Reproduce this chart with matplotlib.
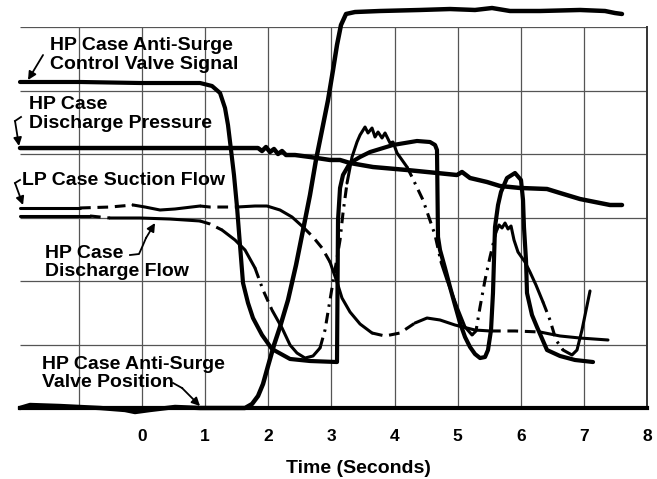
import numpy as np
import matplotlib.pyplot as plt

# Traces: time in seconds, level in grid divisions (0 = bottom line)

# HP case anti-surge control valve signal
cvs_t = np.array([-1.933, -0.982, -0.032, 0.919, 1.109, 1.236, 1.315, 1.362, 1.410, 1.457,
                  1.505, 1.552, 1.600, 1.679, 1.758, 1.901, 2.059, 2.345, 2.661, 3.089,
                  3.105, 3.137, 3.184, 3.295, 3.454, 3.612, 3.976, 4.356, 4.562, 4.642,
                  4.673, 4.689, 4.721, 4.800, 4.879, 4.958, 5.038, 5.117, 5.196, 5.275,
                  5.355, 5.434, 5.481, 5.529, 5.560, 5.592, 5.640, 5.687, 5.782, 5.909,
                  6.004, 6.036, 6.051, 6.083, 6.099, 6.178, 6.257, 6.416, 6.622, 6.859,
                  7.145])
cvs_v = np.array([5.134, 5.134, 5.118, 5.118, 5.071, 4.961, 4.724, 4.457, 4.063, 3.669,
                  3.165, 2.567, 1.969, 1.654, 1.417, 1.150, 0.929, 0.772, 0.740, 0.724,
                  2.961, 3.465, 3.669, 3.858, 3.953, 4.031, 4.142, 4.205, 4.189, 4.142,
                  4.063, 2.693, 2.488, 2.205, 1.906, 1.622, 1.339, 1.118, 0.961, 0.850,
                  0.787, 0.803, 0.913, 1.228, 1.811, 2.850, 3.197, 3.402, 3.622, 3.701,
                  3.591, 3.276, 2.850, 2.331, 1.811, 1.465, 1.276, 0.913, 0.819, 0.756,
                  0.724])

# HP case discharge pressure
dp_t = np.array([-1.933, -0.982, -0.032, 0.919, 1.838, 1.901, 1.964, 2.028, 2.091, 2.154,
                 2.218, 2.281, 2.424, 2.661, 2.978, 3.137, 3.295, 3.659, 4.198, 4.673,
                 4.990, 5.069, 5.196, 5.465, 5.671, 5.988, 6.416, 6.622, 6.939, 7.256,
                 7.414, 7.604])
dp_v = np.array([4.094, 4.094, 4.094, 4.094, 4.094, 4.047, 4.110, 4.031, 4.079, 4.000,
                 4.047, 3.984, 3.984, 3.953, 3.906, 3.906, 3.858, 3.795, 3.748, 3.701,
                 3.669, 3.717, 3.622, 3.559, 3.496, 3.465, 3.449, 3.386, 3.291, 3.228,
                 3.197, 3.197])

# LP case suction flow
lps_t = np.array([-1.933, -0.982, -0.507, -0.143, 0.048, 0.285, 0.523, 0.919, 1.077, 1.505,
                  1.790, 1.980, 2.186, 2.376, 2.551, 2.709, 2.852, 2.978, 3.089, 3.168,
                  3.295, 3.454, 3.644, 3.850, 4.087, 4.325, 4.515, 4.721, 4.958, 5.275,
                  5.513, 5.909, 6.305, 6.622, 6.939, 7.382])
lps_v = np.array([3.150, 3.150, 3.165, 3.197, 3.165, 3.118, 3.134, 3.181, 3.165, 3.165,
                  3.181, 3.181, 3.118, 3.008, 2.850, 2.693, 2.520, 2.299, 1.984, 1.732,
                  1.512, 1.323, 1.181, 1.134, 1.181, 1.339, 1.417, 1.386, 1.307, 1.228,
                  1.213, 1.213, 1.197, 1.134, 1.102, 1.071])

# HP case discharge flow
hdf_t = np.array([-1.933, -0.824, -0.507, -0.032, 0.444, 0.919, 1.077, 1.267, 1.473, 1.632,
                  1.790, 1.917, 2.059, 2.218, 2.345, 2.455, 2.582, 2.709, 2.820, 2.899,
                  2.978, 3.057, 3.137, 3.184, 3.248, 3.327, 3.406, 3.454, 3.533, 3.580,
                  3.644, 3.691, 3.739, 3.802, 3.850, 3.929, 3.976, 4.040, 4.119, 4.198,
                  4.277, 4.451, 4.642, 4.737, 4.832, 4.990, 5.117, 5.228, 5.291, 5.355,
                  5.434, 5.513, 5.608, 5.656, 5.703, 5.751, 5.798, 5.846, 5.893, 5.956,
                  6.067, 6.146, 6.241, 6.352, 6.463, 6.558, 6.669, 6.812, 6.891, 6.970,
                  7.097])
hdf_v = np.array([3.024, 3.024, 2.992, 2.992, 2.976, 2.945, 2.898, 2.803, 2.646, 2.488,
                  2.205, 1.858, 1.543, 1.260, 0.992, 0.866, 0.787, 0.819, 0.945, 1.228,
                  1.701, 2.173, 2.646, 3.071, 3.543, 3.953, 4.189, 4.299, 4.425, 4.331,
                  4.409, 4.268, 4.346, 4.252, 4.331, 4.173, 4.189, 4.016, 3.906, 3.795,
                  3.638, 3.276, 2.724, 2.299, 2.016, 1.591, 1.276, 1.150, 1.213, 1.591,
                  2.016, 2.378, 2.772, 2.882, 2.835, 2.913, 2.819, 2.866, 2.646, 2.457,
                  2.299, 2.142, 1.937, 1.669, 1.386, 1.071, 0.913, 0.835, 0.913, 1.228,
                  1.843])

# HP case anti-surge valve position
vp_t = np.array([-1.933, -1.774, -1.299, -0.665, -0.269, -0.111, 0.127, 0.523, 0.919, 1.632,
                 1.743, 1.838, 1.917, 1.996, 2.091, 2.186, 2.313, 2.440, 2.551, 2.661,
                 2.756, 2.852, 2.947, 3.026, 3.089, 3.152, 3.232, 3.374, 3.770, 4.404,
                 4.879, 5.275, 5.545, 5.830, 6.305, 6.939, 7.335, 7.493, 7.604])
vp_v = np.array([0.0, 0.047, 0.031, 0.0, -0.031, -0.063, -0.031, 0.016, 0.0, 0.0,
                 0.063, 0.189, 0.378, 0.661, 0.992, 1.276, 1.701, 2.252, 2.803, 3.354,
                 3.906, 4.378, 4.850, 5.323, 5.717, 6.031, 6.205, 6.236, 6.252, 6.268,
                 6.283, 6.268, 6.299, 6.252, 6.252, 6.268, 6.252, 6.220, 6.205])

tick_values = [0, 1, 2, 3, 4, 5, 6, 7, 8]

FONT = 'Liberation Sans'
DASHED = (0, (3.5, 2.2))
DASHDOT = (0, (3.5, 2.0, 0.8, 2.0))


def draw_pieces(ax, t, v, pieces, lw):
    # Draw one trace in parts, each part with its own line style
    for start, end, style in pieces:
        keep = (t >= start) & (t <= end)
        ax.plot(t[keep], v[keep], color='black', lw=lw, linestyle=style,
                solid_capstyle='round', solid_joinstyle='round', clip_on=False, zorder=3)


def label(ax, text, x, y):
    ax.text(x, y, text, fontsize=14, fontweight='bold', family=FONT,
            ha='left', va='top', linespacing=1.12, zorder=5)


def arrow(ax, start, tip):
    ax.annotate('', xy=tip, xytext=start, annotation_clip=False,
                arrowprops=dict(arrowstyle='-|>', color='black', lw=1.3,
                                mutation_scale=12, shrinkA=0, shrinkB=0))


def main():
    fig = plt.figure(figsize=(6.57, 4.79), dpi=100)
    ax = fig.add_axes([20 / 657, 71 / 479, 627 / 657, 381 / 479])
    ax.set_xlim(-1.933, 8)
    ax.set_ylim(0, 6)

    # Grid: vertical lines every second, horizontal every division
    ax.vlines(range(-1, 8), 0, 6, color='#555555', lw=0.9, zorder=1)
    ax.hlines(range(1, 7), -1.933, 8, color='#555555', lw=0.9, zorder=1)
    for side in ['left', 'top']:
        ax.spines[side].set_visible(False)
    ax.spines['bottom'].set_linewidth(3.0)
    ax.spines['right'].set_linewidth(1.4)
    ax.spines['right'].set_color('#333333')

    ax.set_xticks(tick_values)
    ax.set_xticklabels([str(v) for v in tick_values], fontsize=12.5,
                       fontweight='bold', family=FONT)
    ax.tick_params(axis='x', length=0, pad=15)
    ax.set_yticks([])

    # Traces
    ax.plot(cvs_t, cvs_v, color='black', lw=3.0, solid_capstyle='round',
            solid_joinstyle='round', clip_on=False, zorder=3)
    ax.plot(dp_t, dp_v, color='black', lw=3.2, solid_capstyle='round',
            clip_on=False, zorder=3)
    ax.plot(vp_t, vp_v, color='black', lw=3.2, solid_capstyle='round',
            solid_joinstyle='round', clip_on=False, zorder=3)
    draw_pieces(ax, lps_t, lps_v, [
        (-1.933, -0.982, '-'), (-0.982, -0.143, DASHED), (-0.143, 0.919, '-'),
        (0.919, 1.505, DASHED), (1.505, 2.551, '-'), (2.551, 2.978, DASHED),
        (2.978, 3.644, '-'), (3.644, 4.325, DASHED), (4.325, 5.513, '-'),
        (5.513, 6.305, DASHED), (6.305, 7.382, '-')], 2.2)
    draw_pieces(ax, hdf_t, hdf_v, [
        (-1.933, -0.824, '-'), (-0.824, -0.507, DASHED), (-0.507, 0.919, '-'),
        (0.919, 1.267, DASHED), (1.267, 1.790, '-'), (1.790, 2.059, DASHDOT),
        (2.059, 2.820, '-'), (2.820, 3.248, DASHDOT), (3.248, 4.198, '-'),
        (4.198, 4.737, DASHDOT), (4.737, 5.228, '-'), (5.228, 5.608, DASHDOT),
        (5.608, 6.352, '-'), (6.352, 6.669, DASHDOT), (6.669, 7.097, '-')], 2.2)

    # Trace labels and their pointers
    label(ax, 'HP Case Anti-Surge\nControl Valve Signal', -1.457, 5.84)
    arrow(ax, (-1.568, 5.559), (-1.806, 5.165))

    label(ax, 'HP Case\nDischarge Pressure', -1.790, 4.91)
    ax.plot([-1.917, -2.012], [4.583, 4.520], color='black', lw=1.3, clip_on=False)
    arrow(ax, (-2.012, 4.520), (-1.949, 4.126))

    label(ax, 'LP Case Suction Flow', -1.901, 3.72)
    ax.plot([-1.933, -2.012], [3.591, 3.543], color='black', lw=1.3, clip_on=False)
    arrow(ax, (-2.012, 3.543), (-1.885, 3.197))

    label(ax, 'HP Case\nDischarge Flow', -1.537, 2.57)
    ax.plot([-0.190, -0.048, 0.016, 0.063], [2.409, 2.425, 2.567, 2.677],
            color='black', lw=1.3, clip_on=False)
    arrow(ax, (0.063, 2.677), (0.206, 2.913))

    label(ax, 'HP Case Anti-Surge\nValve Position', -1.584, 0.82)
    ax.plot([0.491, 0.634], [0.394, 0.315], color='black', lw=1.3, clip_on=False)
    arrow(ax, (0.634, 0.315), (0.919, 0.031))

    fig.text(358 / 657, 6 / 479, 'Time (Seconds)', fontsize=14, fontweight='bold',
             family=FONT, ha='center', va='baseline')

    fig.savefig('out.png', dpi=100)


if __name__ == "__main__":
    main()
